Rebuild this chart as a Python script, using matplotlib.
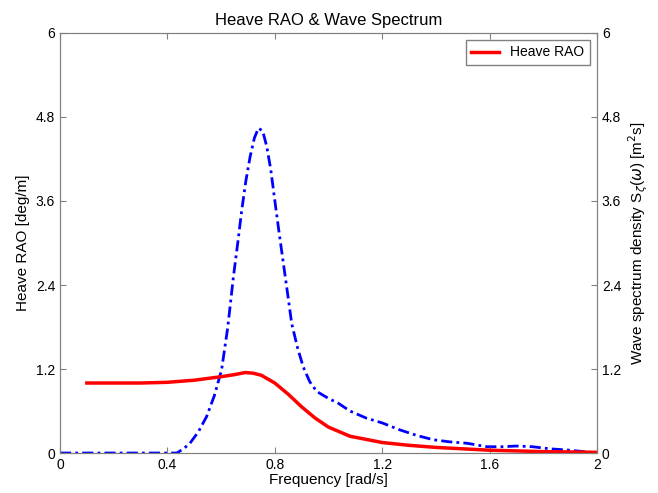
import matplotlib
matplotlib.use("Agg")
import matplotlib.pyplot as plt

plt.rcParams["font.family"] = ["Liberation Sans", "DejaVu Sans"]

# heave RAO [deg/m]
rao_w = [0.1, 0.2, 0.3, 0.4, 0.5, 0.6, 0.65, 0.69, 0.72, 0.75, 0.8, 0.85, 0.9, 0.95, 1.0,
         1.08, 1.2, 1.3, 1.4, 1.5, 1.6, 1.7, 1.8, 1.9, 2.0]
rao = [1.0, 1.0, 1.0, 1.01, 1.04, 1.09, 1.12, 1.15, 1.14, 1.11, 1.0, 0.84, 0.66, 0.5, 0.37,
       0.24, 0.15, 0.11, 0.08, 0.06, 0.04, 0.03, 0.02, 0.015, 0.01]

# wave spectrum [m^2 s]
spec_w = [0.0, 0.1, 0.2, 0.3, 0.4, 0.435, 0.46, 0.484, 0.515, 0.546, 0.575, 0.602, 0.625,
          0.646, 0.662, 0.677, 0.692, 0.708, 0.724, 0.739, 0.755, 0.77, 0.785, 0.8, 0.816,
          0.832, 0.848, 0.863, 0.885, 0.906, 0.93, 0.956, 1.0, 1.037, 1.08, 1.14, 1.2,
          1.266, 1.33, 1.39, 1.45, 1.515, 1.59, 1.65, 1.70, 1.76, 1.825, 1.9, 1.95, 2.0]
spec = [0.0, 0.0, 0.0, 0.0, 0.0, 0.0, 0.06, 0.14, 0.3, 0.52, 0.82, 1.19, 1.8,
        2.52, 3.0, 3.47, 3.88, 4.23, 4.5, 4.64, 4.6, 4.38, 4.05, 3.61, 3.15,
        2.71, 2.27, 1.85, 1.5, 1.23, 1.02, 0.88, 0.78, 0.71, 0.6, 0.5, 0.43,
        0.33, 0.25, 0.19, 0.16, 0.14, 0.09, 0.09, 0.10, 0.09, 0.06, 0.04, 0.02, 0.0]

xticks = [0, 0.4, 0.8, 1.2, 1.6, 2]
yticks = [0, 1.2, 2.4, 3.6, 4.8, 6]

fig = plt.figure(figsize=(6.58, 4.93), dpi=100)
ax = fig.add_axes([0.0912, 0.0811, 0.816, 0.852])
ax2 = ax.twinx()

ax2.plot(spec_w, spec, color="blue", linewidth=2, dashes=(4, 1.5, 1, 1.5))
ax.plot(rao_w, rao, color="red", linewidth=2.5, label="Heave RAO")
ax.set_zorder(ax2.get_zorder() + 1)
ax.patch.set_visible(False)

for a in (ax, ax2):
    a.set_xlim(0, 2)
    a.set_ylim(0, 6)
    a.set_yticks(yticks)
    a.set_yticklabels(["0", "1.2", "2.4", "3.6", "4.8", "6"])
    a.tick_params(direction="in", labelsize=10, length=4, color="#808080")
    for s in a.spines.values():
        s.set_color("#808080")
ax.set_xticks(xticks)
ax.set_xticklabels(["0", "0.4", "0.8", "1.2", "1.6", "2"])
ax.tick_params(top=True)

ax.set_xlabel("Frequency [rad/s]", fontsize=11, labelpad=1)
ax.set_ylabel("Heave RAO [deg/m]", fontsize=11)
ax2.set_ylabel(r"Wave spectrum density S$_\zeta$($\omega$) [m$^2$s]", fontsize=11)
ax.set_title("Heave RAO & Wave Spectrum", fontsize=12)

leg = ax.legend(loc="upper right", fontsize=10, fancybox=False, framealpha=1)
leg.get_frame().set_edgecolor("#808080")

fig.savefig("out.png", dpi=100)
